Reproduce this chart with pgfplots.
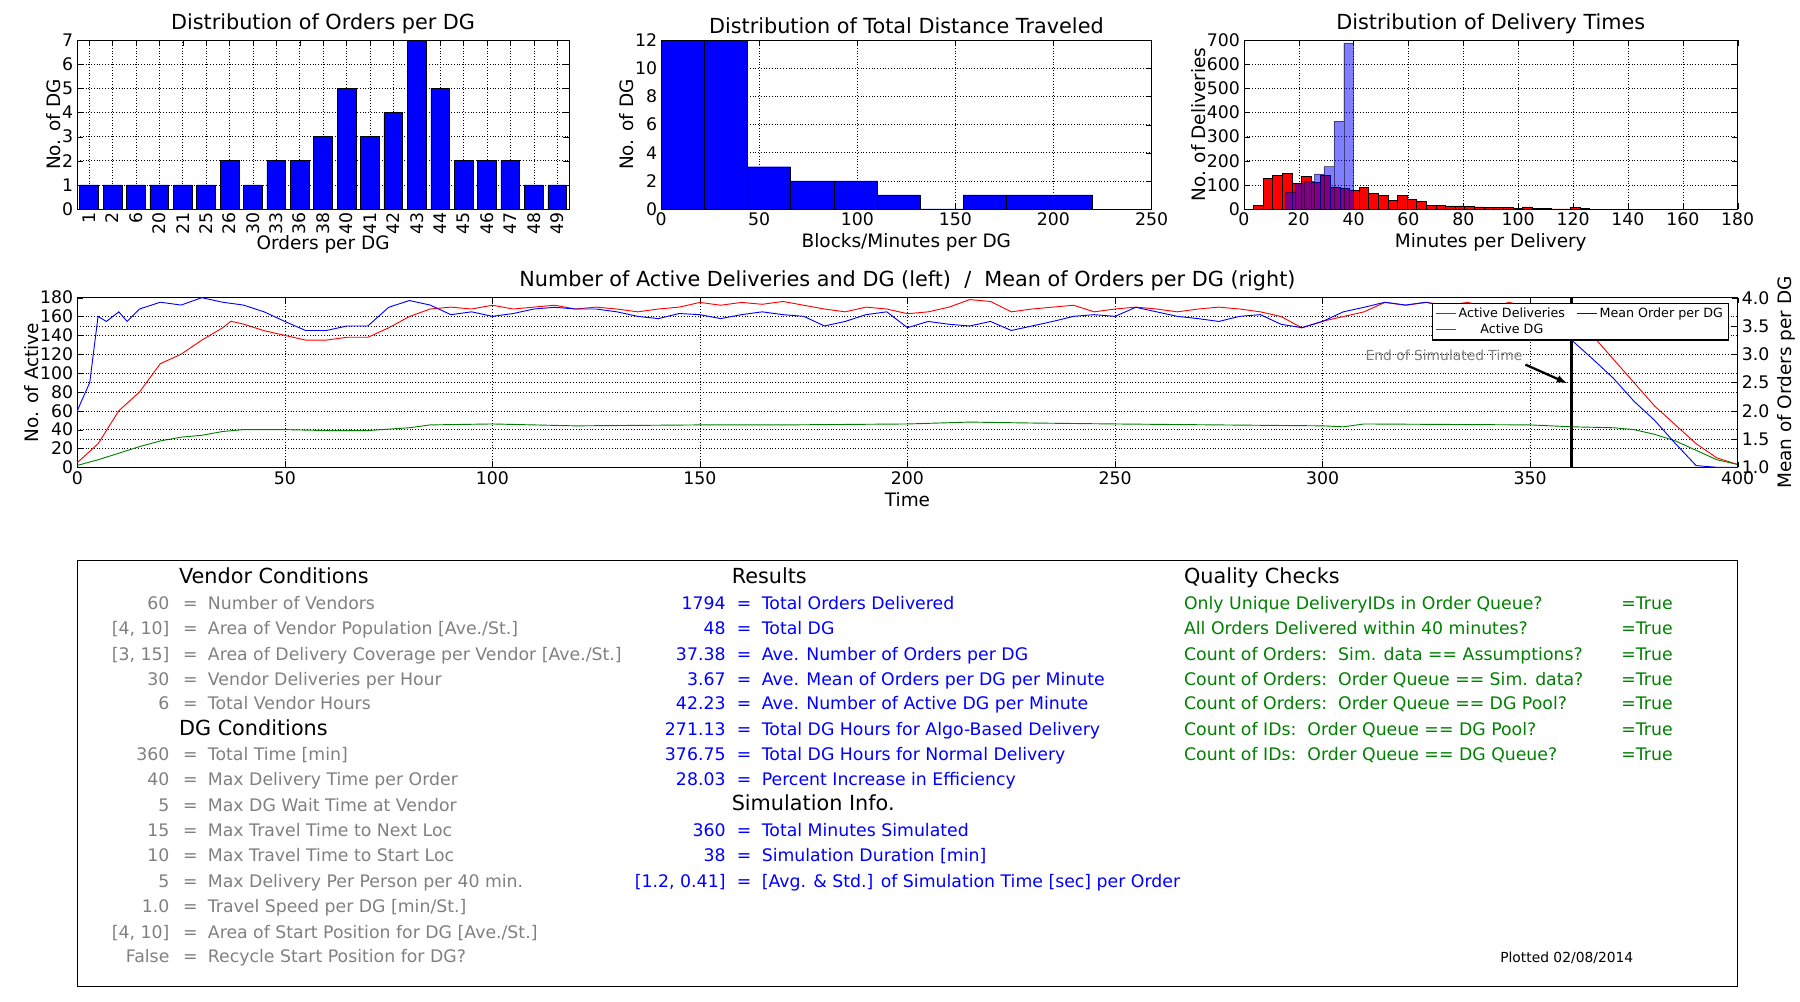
\documentclass[border=0pt]{standalone}
\usepackage{pgfplots}
\pgfplotsset{compat=1.18}
\usepackage{fontspec}
\setmainfont{DejaVu Sans}
\definecolor{dgreen}{RGB}{0,128,0}
\definecolor{tgray}{RGB}{128,128,128}
\pgfplotsset{every axis/.append style={scale only axis,
  /pgf/number format/assume math mode=true,
  tick label style={font=\fontsize{15}{16}\selectfont},
  label style={font=\fontsize{16}{18}\selectfont},
  title style={font=\fontsize{18}{20}\selectfont, yshift=-4pt},
  grid style={black, dotted}, major tick length=5pt, tick style={black}}}
\begin{document}
\begin{tikzpicture}
\path (0pt,0pt) rectangle (1560pt,-868pt);
% hist 1
\begin{axis}[at={(67pt,-35pt)},anchor=north west,width=426pt,height=146pt,
  title={Distribution of Orders per DG}, xlabel={Orders per DG}, ylabel={No. of DG},
  xmin=-0.5,xmax=20.5,ymin=0,ymax=7,ytick={0,...,7},
  xtick={0,...,20}, xticklabels={1,2,6,20,21,25,26,30,33,36,38,40,41,42,43,44,45,46,47,48,49},
  xticklabel style={rotate=90,anchor=east}, ymajorgrids, xmajorgrids,
  xlabel style={yshift=6pt}, ylabel style={yshift=-6pt}]
\addplot[ybar, bar width=0.8, fill=blue, draw=black] coordinates {
(0,1)(1,1)(2,1)(3,1)(4,1)(5,1)(6,2)(7,1)(8,2)(9,2)(10,3)(11,5)(12,3)(13,4)(14,7)(15,5)(16,2)(17,2)(18,2)(19,1)(20,1)};
\end{axis}
% hist 2
\begin{axis}[at={(573pt,-35pt)},anchor=north west,width=425pt,height=146pt,
  title={Distribution of Total Distance Traveled}, xlabel={Blocks/Minutes per DG}, ylabel={No. of DG},
  xmin=0,xmax=250,ymin=0,ymax=12,ytick={0,2,...,12},xtick={0,50,...,250},
  ymajorgrids, xmajorgrids, ylabel style={yshift=-6pt}]
\addplot[ybar interval, fill=blue, draw=black] coordinates {
(0,12)(22,12)(44,3)(66,2)(88,2)(110,1)(132,0)(154,1)(176,1)(198,1)(220,1)};
\end{axis}
% hist 3
\begin{axis}[at={(1078pt,-35pt)},anchor=north west,width=428pt,height=146pt,
  title={Distribution of Delivery Times}, xlabel={Minutes per Delivery}, ylabel={No. of Deliveries},
  xmin=0,xmax=180,ymin=0,ymax=700,ytick={0,100,...,700},xtick={0,20,...,180},
  ymajorgrids, xmajorgrids, ylabel style={yshift=-6pt}]
\addplot[ybar interval, fill=red, draw=black] coordinates {
(3.5,15)(7,128)(10.5,140)(14,148)(17.5,105)(21,135)(24.5,110)(28,140)(31.5,90)(35,85)(38.5,78)(42,90)(45.5,65)(49,55)(52.5,35)(56,55)(59.5,40)(63,30)(66.5,15)(70,15)(73.5,12)(77,12)(80.5,10)(84,8)(87.5,5)(91,5)(94.5,5)(98,3)(101.5,8)(105,2)(108.5,2)(112,0)(115.5,0)(119,5)(122.5,3)(126,3)};
\addplot[ybar interval, fill=blue, fill opacity=0.5, draw=black, draw opacity=0.5] coordinates {
(15.1,70)(18.6,105)(22.1,115)(25.7,145)(29.2,175)(32.8,365)(36.4,690)(40,690)};
\end{axis}
% middle
\begin{axis}[at={(67pt,-258pt)},anchor=north west,width=1439pt,height=147pt,
  title={Number of Active Deliveries and DG (left)\ \ /\ \ Mean of Orders per DG (right)},
  xlabel={Time}, ylabel={No. of Active},
  xmin=0,xmax=400,ymin=0,ymax=180,ytick={0,20,...,180},xtick={0,50,...,400},
  axis y line*=left, ymajorgrids, xmajorgrids, ylabel style={yshift=-6pt}]
\addplot[red, thick] coordinates {
(0,5)(5,25)(10,60)(15,80)(20,110)(25,120)(30,135)(35,148)(37,155)(40,152)(45,145)(50,140)(55,135)(60,135)(65,138)(70,138)(75,148)(80,160)(85,168)(90,170)(95,168)(100,172)(105,168)(110,170)(115,172)(120,168)(125,170)(130,168)(135,165)(140,168)(145,170)(150,175)(155,172)(160,175)(165,173)(170,176)(175,172)(180,168)(185,165)(190,170)(195,168)(200,163)(205,165)(210,170)(215,178)(220,176)(225,165)(230,168)(235,170)(240,172)(245,165)(250,168)(255,170)(260,168)(265,165)(270,168)(275,170)(280,168)(285,165)(290,160)(295,148)(300,155)(305,160)(310,165)(315,175)(320,172)(325,175)(330,172)(335,175)(340,170)(345,175)(350,170)(355,165)(360,155)(365,140)(370,115)(375,90)(380,65)(385,45)(390,25)(395,10)(400,3)};
\addplot[dgreen, thick] coordinates {
(0,2)(5,8)(10,15)(15,22)(20,28)(25,32)(30,34)(35,38)(40,40)(50,40)(60,39)(70,39)(80,42)(85,45)(100,46)(110,45)(120,44)(150,45)(170,45)(200,46)(215,48)(230,47)(250,46)(300,44)(305,43)(310,46)(350,45)(360,43)(370,42)(375,40)(380,35)(385,28)(390,18)(395,8)(400,3)};
\draw[black, line width=2pt] (axis cs:360,0) -- (axis cs:360,180);
\end{axis}
\begin{axis}[at={(67pt,-258pt)},anchor=north west,width=1439pt,height=147pt,
  xmin=0,xmax=400,ymin=1,ymax=4,ytick={1,1.5,...,4},
  yticklabel style={/pgf/number format/.cd,fixed,fixed zerofill,precision=1},
  axis y line*=right, axis x line=none, ymajorgrids, ylabel={Mean of Orders per DG},
  legend columns=2, legend style={at={(0.995,0.97)},anchor=north east,font=\fontsize{11}{13}\selectfont,
   draw=black, line width=1pt, fill=white, /tikz/every even column/.append style={column sep=8pt}}]
\addlegendimage{red, thick}\addlegendentry{Active Deliveries}
\addplot[blue, thick] coordinates {
(0,2.0)(1,2.17)(3,2.5)(5,3.67)(7,3.58)(10,3.75)(12,3.58)(15,3.8)(20,3.92)(25,3.87)(30,4.0)(35,3.92)(40,3.87)(45,3.75)(50,3.58)(55,3.42)(60,3.42)(65,3.5)(70,3.5)(75,3.83)(80,3.95)(85,3.87)(90,3.7)(95,3.75)(100,3.67)(105,3.72)(110,3.8)(115,3.83)(120,3.8)(125,3.8)(130,3.75)(135,3.67)(140,3.63)(145,3.72)(150,3.7)(155,3.63)(160,3.7)(165,3.75)(170,3.7)(175,3.67)(180,3.5)(185,3.58)(190,3.7)(195,3.75)(200,3.47)(205,3.58)(210,3.53)(215,3.5)(220,3.58)(225,3.42)(230,3.5)(235,3.58)(240,3.67)(245,3.7)(250,3.67)(255,3.83)(260,3.75)(265,3.67)(270,3.63)(275,3.58)(280,3.67)(285,3.7)(290,3.53)(295,3.47)(300,3.58)(305,3.75)(310,3.83)(315,3.92)(320,3.87)(325,3.92)(330,3.83)(335,3.87)(340,3.8)(350,3.8)(355,3.67)(360,3.25)(365,2.92)(370,2.58)(375,2.17)(380,1.83)(385,1.42)(390,1.03)(395,1.0)(400,1.0)};
\addlegendentry{Mean Order per DG}
\addlegendimage{dgreen, thick}\addlegendentry{Active DG}
\end{axis}
\node[anchor=west, text=tgray, font=\fontsize{12}{14}\selectfont] at (1180pt,-308pt) {End of Simulated Time};
\draw[-latex, line width=2pt] (1322pt,-316pt) -- (1358pt,-332pt);
% text box
\draw[black, line width=1pt] (67pt,-486pt) rectangle (1506pt,-855pt);
\begin{scope}[every node/.style={font=\fontsize{15}{17}\selectfont, inner sep=0pt}]
\node[anchor=base west, font=\fontsize{18}{20}\selectfont] at (155pt,-506pt) {Vendor Conditions};
\node[anchor=base west, font=\fontsize{18}{20}\selectfont] at (155pt,-637pt) {DG Conditions};
\node[anchor=base west, font=\fontsize{18}{20}\selectfont] at (634pt,-506pt) {Results};
\node[anchor=base west, font=\fontsize{18}{20}\selectfont] at (634pt,-702pt) {Simulation Info.};
\node[anchor=base west, font=\fontsize{18}{20}\selectfont] at (1026pt,-506pt) {Quality Checks};
\foreach \y/\v/\t in {528/60/{Number of Vendors}, 550/{[4, 10]}/{Area of Vendor Population [Ave./St.]}, 572/{[3, 15]}/{Area of Delivery Coverage per Vendor [Ave./St.]}, 594/30/{Vendor Deliveries per Hour}, 615/6/{Total Vendor Hours}, 659/360/{Total Time [min]}, 681/40/{Max Delivery Time per Order}, 703/5/{Max DG Wait Time at Vendor}, 725/15/{Max Travel Time to Next Loc}, 747/10/{Max Travel Time to Start Loc}, 769/5/{Max Delivery Per Person per 40 min.}, 791/1.0/{Travel Speed per DG [min/St.]}, 813/{[4, 10]}/{Area of Start Position for DG [Ave./St.]}, 834/False/{Recycle Start Position for DG?}}
{ \node[anchor=base east, text=tgray] at (147pt,-\y pt) {\v};
  \node[anchor=base, text=tgray] at (165pt,-\y pt) {=};
  \node[anchor=base west, text=tgray] at (180pt,-\y pt) {\t}; }
\foreach \y/\v/\t in {528/1794/{Total Orders Delivered}, 550/48/{Total DG}, 572/37.38/{Ave. Number of Orders per DG}, 594/3.67/{Ave. Mean of Orders per DG per Minute}, 615/42.23/{Ave. Number of Active DG per Minute}, 637/271.13/{Total DG Hours for Algo-Based Delivery}, 659/376.75/{Total DG Hours for Normal Delivery}, 681/28.03/{Percent Increase in Efficiency}, 725/360/{Total Minutes Simulated}, 747/38/{Simulation Duration [min]}, 769/{[1.2, 0.41]}/{[Avg. \& Std.] of Simulation Time [sec] per Order}}
{ \node[anchor=base east, text=blue] at (629pt,-\y pt) {\v};
  \node[anchor=base, text=blue] at (645pt,-\y pt) {=};
  \node[anchor=base west, text=blue] at (660pt,-\y pt) {\t}; }
\foreach \y/\t in {528/{Only Unique DeliveryIDs in Order Queue?}, 550/{All Orders Delivered within 40 minutes?}, 572/{Count of Orders:\ \ Sim. data == Assumptions?}, 594/{Count of Orders:\ \ Order Queue == Sim. data?}, 615/{Count of Orders:\ \ Order Queue == DG Pool?}, 637/{Count of IDs:\ \ Order Queue == DG Pool?}, 659/{Count of IDs:\ \ Order Queue == DG Queue?}}
{ \node[anchor=base west, text=dgreen] at (1026pt,-\y pt) {\t};
  \node[anchor=base west, text=dgreen] at (1405pt,-\y pt) {=True}; }
\node[anchor=base west, font=\fontsize{12}{14}\selectfont] at (1300pt,-834pt) {Plotted 02/08/2014};
\end{scope}
\end{tikzpicture}
\end{document}
